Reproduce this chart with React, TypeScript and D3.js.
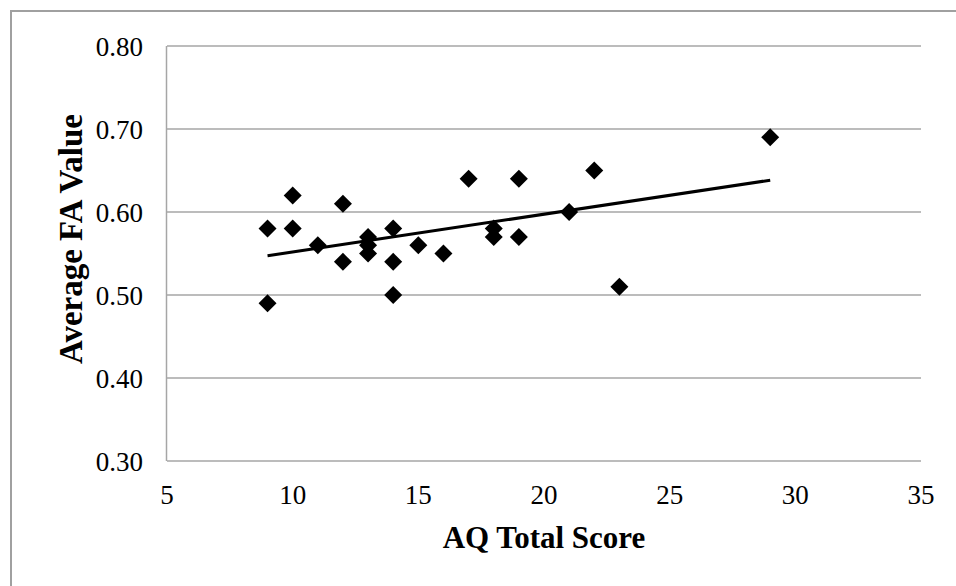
import React from "react";
import * as d3 from "d3";

const aqScores = [9, 9, 10, 10, 11, 12, 12, 13, 13, 13, 14, 14, 14, 15, 16, 17, 18, 18, 19, 19, 21, 22, 23, 29];
const faValues = [0.58, 0.49, 0.62, 0.58, 0.56, 0.61, 0.54, 0.57, 0.56, 0.55, 0.58, 0.54, 0.5, 0.56, 0.55, 0.64, 0.58, 0.57, 0.64, 0.57, 0.6, 0.65, 0.51, 0.69];
const xTicks = [5, 10, 15, 20, 25, 30, 35];
const yTicks = [0.3, 0.4, 0.5, 0.6, 0.7, 0.8];
const xTitle = "AQ Total Score";
const yTitle = "Average FA Value";

const W = 956;
const H = 586;
const plot = { left: 167, right: 921, top: 46, bottom: 461 };

export default function App() {
  const x = d3.scaleLinear().domain([5, 35]).range([plot.left, plot.right]);
  const y = d3.scaleLinear().domain([0.3, 0.8]).range([plot.bottom, plot.top]);

  const mx = d3.mean(aqScores) as number;
  const my = d3.mean(faValues) as number;
  let sxy = 0;
  let sxx = 0;
  aqScores.forEach((v, i) => {
    sxy += (v - mx) * (faValues[i] - my);
    sxx += (v - mx) * (v - mx);
  });
  const slope = sxy / sxx;
  const intercept = my - slope * mx;
  const [xMin, xMax] = d3.extent(aqScores) as [number, number];
  const trend = d3
    .line<number>()
    .x((d) => x(d))
    .y((d) => y(intercept + slope * d))([xMin, xMax]);

  const diamond = d3.symbol(d3.symbolSquare, 162)() as string;
  const fontFamily = "'Liberation Serif', 'Times New Roman', serif";
  const gridColor = "#a6a6a6";

  return (
    <svg width={W} height={H} style={{ position: "absolute", left: 0, top: 0, background: "#fff" }}>
      <rect x={11} y={11} width={1200} height={1200} fill="none" stroke="#a0a0a0" strokeWidth={2} />
      {yTicks.map((t) => (
        <line key={"g" + t} x1={plot.left} x2={plot.right} y1={y(t)} y2={y(t)} stroke={gridColor} strokeWidth={1.5} />
      ))}
      <line x1={plot.left - 0.5} x2={plot.left - 0.5} y1={plot.top} y2={plot.bottom} stroke={gridColor} strokeWidth={1.5} />
      {yTicks.map((t) => (
        <text key={"yl" + t} x={143} y={y(t) + 10} textAnchor="end" fontFamily={fontFamily} fontSize={27} fill="#000">
          {d3.format(".2f")(t)}
        </text>
      ))}
      {xTicks.map((t) => (
        <text key={"xl" + t} x={x(t)} y={504} textAnchor="middle" fontFamily={fontFamily} fontSize={27} fill="#000">
          {t}
        </text>
      ))}
      <text x={544} y={548} textAnchor="middle" fontFamily={fontFamily} fontSize={31} fontWeight="bold" fill="#000">
        {xTitle}
      </text>
      <text
        transform={`translate(82,239) rotate(-90)`}
        textAnchor="middle"
        fontFamily={fontFamily}
        fontSize={33}
        fontWeight="bold"
        fill="#000"
      >
        {yTitle}
      </text>
      {aqScores.map((v, i) => (
        <path key={"p" + i} d={diamond} transform={`translate(${x(v)},${y(faValues[i])}) rotate(45)`} fill="#000" />
      ))}
      <path d={trend as string} fill="none" stroke="#000" strokeWidth={3} />
    </svg>
  );
}
